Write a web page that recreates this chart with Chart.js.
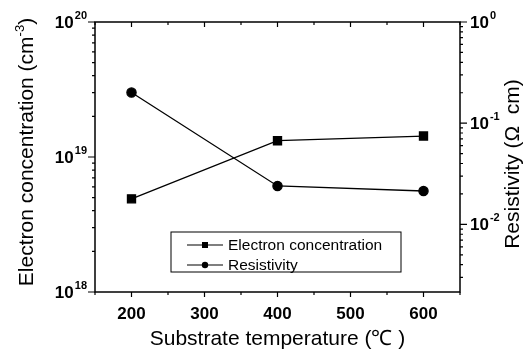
<!DOCTYPE html>
<html>
<head>
<meta charset="utf-8">
<script src="https://cdn.jsdelivr.net/npm/chart.js@4"></script>
<style>
  html, body { margin: 0; padding: 0; background: #fff; }
  #wrap { width: 523px; height: 352px; }
</style>
</head>
<body>
<div id="wrap"><canvas id="chart"></canvas></div>
<script>
// data
const temps = [200, 400, 600];
const electronConc = [4.9e18, 1.32e19, 1.43e19];   // cm^-3, left axis
const resistivity = [0.201, 0.024, 0.0214];         // ohm cm, right axis
const seriesLabels = ['Electron concentration', 'Resistivity'];

const xTicks = [200, 300, 400, 500, 600];
const xMinorTicks = [150, 250, 350, 450, 550, 650];
const leftDecades = [1e18, 1e19, 1e20];
const rightDecades = [1e-2, 1e-1, 1e0];

const FONT = 'Arial, "Liberation Sans", sans-serif';

function minorLogTicks(min, max) {
    const out = [];
    let d = Math.pow(10, Math.floor(Math.log10(min)));
    while (d <= max) {
        for (let k = 2; k <= 9; k++) {
            const v = k * d;
            if (v > min && v < max) out.push(v);
        }
        d *= 10;
    }
    return out;
}

// "10" with a raised exponent
function drawPow(ctx, exp, x, y, align) {
    const base = '10';
    ctx.font = 'bold 17px ' + FONT;
    const wb = ctx.measureText(base).width;
    ctx.font = 'bold 11px ' + FONT;
    const we = ctx.measureText(exp).width;
    const total = wb + 1 + we;
    const x0 = align === 'right' ? x - total : x;
    ctx.textAlign = 'left';
    ctx.textBaseline = 'middle';
    ctx.font = 'bold 17px ' + FONT;
    ctx.fillText(base, x0, y + 1);
    ctx.font = 'bold 11px ' + FONT;
    ctx.fillText(exp, x0 + wb + 1, y - 6);
}

function drawRotatedWithSup(ctx, parts, cx, cy) {
    // parts: [text, isSup]
    ctx.save();
    ctx.translate(cx, cy);
    ctx.rotate(-Math.PI / 2);
    let total = 0;
    const widths = parts.map(([t, sup]) => {
        ctx.font = (sup ? '13px ' : '21px ') + FONT;
        const w = ctx.measureText(t).width;
        total += w;
        return w;
    });
    let x = -total / 2;
    ctx.textAlign = 'left';
    ctx.textBaseline = 'middle';
    parts.forEach(([t, sup], i) => {
        ctx.font = (sup ? '13px ' : '21px ') + FONT;
        ctx.fillText(t, x, sup ? -7 : 0);
        x += widths[i];
    });
    ctx.restore();
}

const framePlugin = {
    id: 'frame',
    afterDraw(chart) {
        const { ctx, chartArea: a } = chart;
        const xs = chart.scales.x, yl = chart.scales.y, yr = chart.scales.y1;
        ctx.save();
        ctx.strokeStyle = '#000';
        ctx.fillStyle = '#000';

        // box
        ctx.lineWidth = 1.5;
        ctx.strokeRect(a.left, a.top, a.right - a.left, a.bottom - a.top);

        ctx.lineWidth = 1.2;
        ctx.beginPath();
        xTicks.forEach(v => {
            const px = xs.getPixelForValue(v);
            ctx.moveTo(px, a.bottom); ctx.lineTo(px, a.bottom + 5);
            ctx.moveTo(px, a.top); ctx.lineTo(px, a.top + 5);
        });
        xMinorTicks.forEach(v => {
            const px = xs.getPixelForValue(v);
            ctx.moveTo(px, a.bottom); ctx.lineTo(px, a.bottom + 3);
            ctx.moveTo(px, a.top); ctx.lineTo(px, a.top + 3);
        });
        leftDecades.forEach(v => {
            const py = yl.getPixelForValue(v);
            ctx.moveTo(a.left, py); ctx.lineTo(a.left - 7, py);
        });
        minorLogTicks(yl.min, yl.max).forEach(v => {
            const py = yl.getPixelForValue(v);
            ctx.moveTo(a.left, py); ctx.lineTo(a.left - 3, py);
        });
        rightDecades.forEach(v => {
            const py = yr.getPixelForValue(v);
            ctx.moveTo(a.right, py); ctx.lineTo(a.right + 7, py);
        });
        minorLogTicks(yr.min, yr.max).forEach(v => {
            const py = yr.getPixelForValue(v);
            ctx.moveTo(a.right, py); ctx.lineTo(a.right + 3, py);
        });
        ctx.stroke();

        // tick labels with superscripts
        leftDecades.forEach(v => {
            drawPow(ctx, String(Math.round(Math.log10(v))), a.left - 8, yl.getPixelForValue(v), 'right');
        });
        rightDecades.forEach(v => {
            drawPow(ctx, String(Math.round(Math.log10(v))), a.right + 10, yr.getPixelForValue(v), 'left');
        });

        // axis titles
        drawRotatedWithSup(ctx, [['Electron concentration (cm', false], ['-3', true], [')', false]], 27, 152);
        drawRotatedWithSup(ctx, [['Resistivity (\u03A9  cm)', false]], 513, 164);

        // legend
        const lx = 171, ly = 232, lw = 230, lh = 40;
        ctx.lineWidth = 1;
        ctx.strokeRect(lx, ly, lw, lh);
        chart.data.datasets.forEach((ds, i) => {
            const ry = ly + 13 + i * 20;
            ctx.lineWidth = 1.2;
            ctx.beginPath();
            ctx.moveTo(lx + 16, ry); ctx.lineTo(lx + 52, ry);
            ctx.stroke();
            if (ds.pointStyle === 'rect') {
                ctx.fillRect(lx + 34 - 3, ry - 3, 6, 6);
            } else {
                ctx.beginPath();
                ctx.arc(lx + 34, ry, 3.2, 0, Math.PI * 2);
                ctx.fill();
            }
            ctx.font = '15.5px ' + FONT;
            ctx.textAlign = 'left';
            ctx.textBaseline = 'middle';
            ctx.fillText(ds.label, lx + 57, ry + 1);
        });
        ctx.restore();
    }
};

new Chart(document.getElementById('chart'), {
    type: 'line',
    data: {
        datasets: [
            {
                label: seriesLabels[0],
                data: temps.map((t, i) => ({ x: t, y: electronConc[i] })),
                yAxisID: 'y',
                borderColor: '#000',
                backgroundColor: '#000',
                borderWidth: 1.3,
                pointStyle: 'rect',
                pointRadius: 5.7,
                tension: 0
            },
            {
                label: seriesLabels[1],
                data: temps.map((t, i) => ({ x: t, y: resistivity[i] })),
                yAxisID: 'y1',
                borderColor: '#000',
                backgroundColor: '#000',
                borderWidth: 1.3,
                pointStyle: 'circle',
                pointRadius: 4.6,
                tension: 0
            }
        ]
    },
    options: {
        responsive: true,
        maintainAspectRatio: false,
        animation: false,
        layout: { padding: { top: 22, left: 0, right: 0, bottom: 0 } },
        plugins: { legend: { display: false }, tooltip: { enabled: false } },
        scales: {
            x: {
                type: 'linear',
                min: 150,
                max: 650,
                afterBuildTicks: s => { s.ticks = xTicks.map(v => ({ value: v })); },
                afterFit: s => { s.height = 60; },
                grid: { display: false },
                border: { display: false },
                ticks: { color: '#000', padding: 4, font: { family: FONT, size: 17, weight: 'bold' } },
                title: {
                    display: true,
                    text: 'Substrate temperature (\u2103 )',
                    color: '#000',
                    font: { family: FONT, size: 21 },
                    padding: { top: 0, bottom: 0 }
                }
            },
            y: {
                type: 'logarithmic',
                position: 'left',
                min: 1e18,
                max: 1e20,
                afterFit: s => { s.width = 95; },
                ticks: { display: false },
                grid: { display: false },
                border: { display: false }
            },
            y1: {
                type: 'logarithmic',
                position: 'right',
                min: 0.00215,
                max: 1,
                afterFit: s => { s.width = 63; },
                ticks: { display: false },
                grid: { display: false },
                border: { display: false }
            }
        }
    },
    plugins: [framePlugin]
});
</script>
</body>
</html>
